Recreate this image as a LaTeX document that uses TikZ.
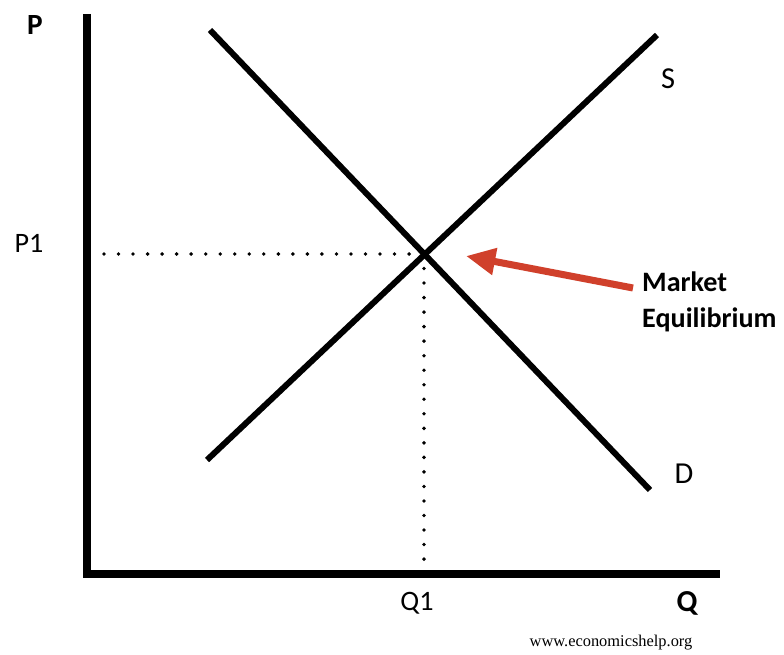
\documentclass[tikz,border=0pt]{standalone}
\usepackage{fontspec}
\setmainfont{Carlito}
\newfontfamily\webfont{Liberation Serif}
\usetikzlibrary{arrows.meta,positioning}
\definecolor{arrowred}{HTML}{D0402B}

\begin{document}
\begin{tikzpicture}[
  x=0.03cm, y=-0.03cm,
  axis/.style={line width=7.4pt},
  curve/.style={line width=5.1pt},
  guide/.style={line width=3.3pt, line cap=round, dash pattern=on 0pt off 12.4pt},
  lbl/.style={font=\fontsize{24}{28}\selectfont, inner sep=0pt},
  big/.style={font=\fontsize{26}{30}\selectfont, inner sep=0pt},
  arr/.style={arrowred, line width=6pt, -{Triangle[length=25pt, width=22pt]}}
]
  \useasboundingbox (0,0) rectangle (784,655);
  % axes
  \draw[axis] (87,14) -- (87,574) -- (720,574);
  % demand and supply
  \draw[curve] (210,30) -- (650,490);
  \draw[curve] (207,460) -- (657,35);
  \coordinate (eq) at (424,254);
  % guides
  \draw[guide] (104,254) -- (eq);
  \draw[guide] (eq) -- (424,568);
  % labels
  \node[lbl, font=\fontsize{25}{28}\selectfont\bfseries] (p) at (35,25) {P};
  \node[lbl] (p1) at (29,243) {P1};
  \node[big] (s) at (668,79) {S};
  \node[big] (d) at (684,474) {D};
  \node[lbl] (q1) at (417,603) {Q1};
  \node[big, font=\fontsize{26}{30}\selectfont\bfseries] (q) at (687,603) {Q};
  \node[lbl, font=\fontsize{24}{30.6}\selectfont\bfseries, align=left, anchor=north west] (mkt) at (642,272) {Market\\Equilibrium};
  \node[inner sep=0pt, font=\webfont\fontsize{14}{16}\selectfont] (web) at (611,643) {www.economicshelp.org};
  % arrow
  \coordinate (tail) at (633,288);
  \draw[arr] (tail) -- (466,256);
\end{tikzpicture}
\end{document}
